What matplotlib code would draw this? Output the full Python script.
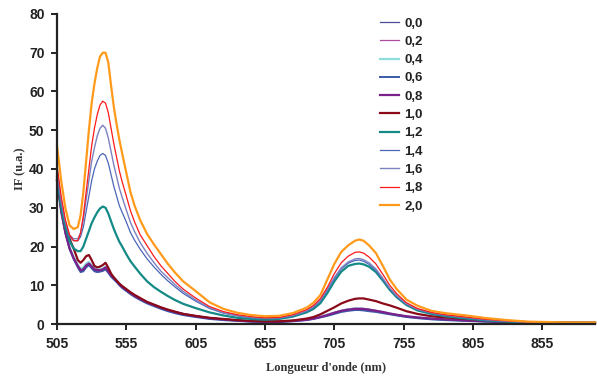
import matplotlib
matplotlib.use("Agg")
import matplotlib.pyplot as plt

# wavelength grid (nm)
wl = [505, 508, 511, 514, 517, 520, 522, 524, 526, 528, 530, 532, 534, 536, 538, 540,
      542, 544, 546, 548, 550, 552, 555, 558, 561, 565, 570, 575, 580, 585, 590, 596,
      605, 615, 625, 635, 645, 655, 665, 675, 685, 690, 695, 700, 705, 710, 715, 720,
      723, 726, 730, 735, 740, 745, 750, 757, 765, 775, 785, 800, 815, 830, 845, 860,
      875, 893]

c00 = [36.5, 28.5, 23.2, 19.3, 16.8, 14.8, 13.6, 13.8, 14.8, 15.4, 14.6, 13.9, 13.6, 13.7, 13.9, 14.3,
       13.4, 12.4, 11.7, 10.9, 10.1, 9.4, 8.6, 7.8, 7.1, 6.3, 5.4, 4.7, 4.0, 3.4, 2.9, 2.4,
       1.9, 1.4, 1.1, 0.9, 0.7, 0.6, 0.6, 0.8, 1.1, 1.4, 1.8, 2.3, 2.8, 3.3, 3.6, 3.8,
       3.8, 3.7, 3.5, 3.2, 2.9, 2.6, 2.3, 1.9, 1.6, 1.3, 1.1, 0.9, 0.7, 0.5, 0.4, 0.35,
       0.3, 0.3]
c02 = [37.0, 29.0, 23.6, 19.6, 17.1, 15.1, 14.0, 14.3, 15.3, 15.8, 15.0, 14.2, 14.0, 14.0, 14.2, 14.7,
       13.7, 12.7, 12.0, 11.2, 10.4, 9.7, 8.9, 8.1, 7.4, 6.5, 5.6, 4.9, 4.2, 3.6, 3.1, 2.6,
       2.1, 1.6, 1.2, 1.0, 0.8, 0.7, 0.7, 0.9, 1.2, 1.5, 1.9, 2.5, 3.0, 3.5, 3.9, 4.1,
       4.1, 4.0, 3.8, 3.5, 3.1, 2.7, 2.4, 2.0, 1.7, 1.4, 1.2, 0.9, 0.7, 0.5, 0.4, 0.35,
       0.3, 0.3]
c04 = [37.5, 29.5, 24.0, 19.8, 17.3, 15.3, 14.2, 14.6, 15.6, 16.0, 15.2, 14.4, 14.1, 14.1, 14.3, 14.8,
       13.8, 12.8, 12.0, 11.2, 10.4, 9.7, 8.9, 8.1, 7.3, 6.5, 5.6, 4.8, 4.1, 3.5, 3.0, 2.5,
       2.0, 1.5, 1.2, 0.9, 0.7, 0.6, 0.7, 0.9, 1.2, 1.5, 1.9, 2.4, 2.9, 3.4, 3.8, 4.0,
       4.0, 3.9, 3.7, 3.4, 3.0, 2.7, 2.3, 1.9, 1.6, 1.3, 1.1, 0.9, 0.7, 0.5, 0.4, 0.35,
       0.3, 0.3]
c06 = [38.5, 30.0, 24.0, 19.5, 16.8, 14.6, 13.4, 13.6, 14.6, 15.2, 14.4, 13.6, 13.4, 13.5, 13.7, 14.1,
       13.2, 12.2, 11.5, 10.8, 10.0, 9.3, 8.5, 7.7, 7.0, 6.2, 5.3, 4.6, 3.9, 3.3, 2.8, 2.3,
       1.8, 1.3, 1.0, 0.8, 0.6, 0.5, 0.5, 0.7, 1.0, 1.3, 1.7, 2.1, 2.6, 3.1, 3.4, 3.6,
       3.6, 3.5, 3.3, 3.1, 2.8, 2.5, 2.2, 1.8, 1.5, 1.2, 1.0, 0.8, 0.6, 0.5, 0.4, 0.35,
       0.3, 0.3]
c08 = [37.0, 29.2, 23.6, 19.6, 17.0, 15.0, 13.9, 14.1, 15.1, 15.6, 14.9, 14.1, 13.9, 13.9, 14.1, 14.6,
       13.6, 12.6, 11.9, 11.1, 10.3, 9.6, 8.8, 8.0, 7.3, 6.5, 5.6, 4.9, 4.2, 3.6, 3.1, 2.6,
       2.0, 1.5, 1.2, 0.9, 0.7, 0.6, 0.6, 0.8, 1.1, 1.4, 1.8, 2.3, 2.9, 3.4, 3.7, 3.9,
       3.9, 3.9, 3.7, 3.4, 3.1, 2.7, 2.4, 2.0, 1.7, 1.4, 1.2, 0.9, 0.7, 0.5, 0.4, 0.35,
       0.3, 0.3]
c10 = [37.0, 30.0, 25.0, 22.0, 19.5, 16.5, 15.8, 16.5, 17.5, 17.8, 16.5, 15.0, 14.6, 14.8, 15.2, 15.8,
       14.5, 13.0, 12.0, 11.2, 10.4, 9.8, 9.0, 8.2, 7.5, 6.7, 5.7, 5.0, 4.3, 3.7, 3.2, 2.6,
       2.1, 1.6, 1.3, 1.0, 0.8, 0.7, 0.7, 0.9, 1.4, 1.8, 2.5, 3.4, 4.3, 5.3, 6.0, 6.5,
       6.6, 6.6, 6.3, 5.9, 5.3, 4.8, 4.2, 3.3, 2.6, 2.0, 1.7, 1.3, 1.0, 0.7, 0.5, 0.4,
       0.35, 0.3]
c12 = [38.0, 30.0, 25.0, 21.5, 19.5, 18.8, 18.8, 20.0, 22.0, 24.0, 26.0, 27.5, 28.8, 29.8, 30.3, 30.0,
       28.5, 26.5, 24.5, 22.8, 21.2, 20.0, 18.0, 16.2, 14.8, 13.0, 11.0, 9.5, 8.3, 7.2, 6.2, 5.2,
       4.1, 3.0, 2.2, 1.6, 1.3, 1.1, 1.3, 1.9, 3.0, 3.9, 5.4, 8.0, 11.0, 13.5, 15.0, 15.5,
       15.6, 15.4, 14.8, 13.4, 11.2, 8.8, 6.9, 4.9, 3.5, 2.6, 2.0, 1.4, 0.9, 0.6, 0.4, 0.35,
       0.3, 0.3]
c14 = [39.0, 31.0, 26.0, 22.5, 21.5, 21.5, 22.5, 25.0, 29.0, 33.0, 37.0, 40.0, 42.0, 43.5, 44.0, 43.5,
       41.5, 38.5, 35.5, 33.0, 30.5, 28.8, 26.3, 23.6, 21.6, 19.3, 16.8, 14.7, 12.8, 11.1, 9.6, 7.9,
       5.9, 4.0, 2.8, 2.1, 1.6, 1.4, 1.5, 2.1, 3.3, 4.3, 6.0, 8.7, 11.7, 14.2, 15.7, 16.4,
       16.5, 16.2, 15.4, 13.9, 11.5, 9.1, 7.1, 5.1, 3.7, 2.8, 2.2, 1.6, 1.0, 0.7, 0.5, 0.4,
       0.35, 0.3]
c16 = [40.0, 32.0, 26.5, 23.0, 22.0, 22.0, 23.5, 27.0, 32.0, 37.0, 42.0, 45.5, 48.5, 50.5, 51.3, 50.5,
       48.0, 44.5, 41.0, 38.0, 35.0, 32.7, 29.4, 26.2, 23.8, 21.0, 18.2, 15.8, 13.6, 11.9, 10.2, 8.4,
       6.2, 4.2, 2.9, 2.2, 1.7, 1.5, 1.6, 2.2, 3.4, 4.5, 6.2, 9.0, 12.0, 14.5, 16.0, 16.8,
       16.9, 16.6, 15.8, 14.2, 11.8, 9.3, 7.3, 5.2, 3.8, 2.9, 2.3, 1.7, 1.1, 0.7, 0.5, 0.4,
       0.35, 0.3]
c18 = [41.0, 33.0, 27.0, 23.0, 21.5, 21.5, 23.5, 28.0, 34.0, 40.0, 46.0, 50.5, 54.0, 56.5, 57.5, 57.0,
       54.5, 50.5, 46.5, 43.0, 39.5, 36.7, 33.0, 29.2, 26.3, 23.0, 20.2, 17.4, 15.0, 13.0, 11.0, 9.0,
       6.7, 4.5, 3.2, 2.4, 1.9, 1.6, 1.7, 2.4, 3.7, 4.8, 6.6, 9.5, 13.0, 15.8, 17.5, 18.5,
       18.6, 18.3, 17.3, 15.5, 12.8, 10.0, 7.8, 5.5, 4.0, 3.0, 2.4, 1.8, 1.2, 0.8, 0.5, 0.4,
       0.35, 0.3]
c20 = [46.0, 37.0, 30.0, 25.5, 24.5, 25.0, 28.0, 34.0, 42.0, 50.0, 57.0, 62.0, 66.0, 69.0, 70.0, 70.0,
       67.5, 61.5, 56.0, 51.5, 47.5, 44.0, 39.0, 34.0, 30.5, 26.8, 23.2, 20.5, 18.0, 15.5, 13.3, 11.0,
       8.5, 5.6, 3.9, 2.9, 2.3, 2.0, 2.1, 2.8, 4.2, 5.5, 7.5, 11.5, 15.5, 18.6, 20.3, 21.5,
       21.8, 21.5, 20.3, 18.3, 15.0, 11.5, 9.0, 6.3, 4.7, 3.4, 2.8, 2.2, 1.5, 1.0, 0.6, 0.5,
       0.4, 0.4]

labels = ["0,0", "0,2", "0,4", "0,6", "0,8", "1,0", "1,2", "1,4", "1,6", "1,8", "2,0"]
series = [c00, c02, c04, c06, c08, c10, c12, c14, c16, c18, c20]
colors = ["#4b4b9b", "#b04ca0", "#8fdcdc", "#3a5aa8", "#7b1f8a", "#8b0a1a",
          "#138a86", "#4a66b8", "#7c82c0", "#ff1a1a", "#ff9a1a"]
widths = [0.9, 0.9, 1.6, 1.4, 1.6, 1.6, 1.6, 0.9, 1.0, 0.9, 1.6]

xticks = [505, 555, 605, 655, 705, 755, 805, 855]
yticks = [0, 10, 20, 30, 40, 50, 60, 70, 80]

fig = plt.figure(figsize=(5.97, 3.76), dpi=100)
ax = fig.add_axes([57/597, 1 - 324/376, (595-57)/597, (324-14)/376])

for y, lab, col, lw in zip(series, labels, colors, widths):
    ax.plot(wl, y, color=col, lw=lw, label=lab, clip_on=False)

ax.set_xlim(505, 893)
ax.set_ylim(0, 80)
ax.set_xticks(xticks)
ax.set_yticks(yticks)
for s in ["top", "right"]:
    ax.spines[s].set_visible(False)
for s in ["left", "bottom"]:
    ax.spines[s].set_linewidth(1.6)
    ax.spines[s].set_color("#222222")
ax.tick_params(direction="out", length=4, width=1.4, colors="#222222", pad=5)
for t in ax.get_xticklabels() + ax.get_yticklabels():
    t.set_fontfamily("Liberation Sans")
    t.set_fontweight("bold")
    t.set_fontsize(10)
    t.set_color("#222222")

ax.set_xlabel("Longueur d'onde (nm)", family="Liberation Serif", weight="bold",
              fontsize=9, color="#333333", labelpad=8)
ax.set_ylabel("IF (u.a.)", family="Liberation Serif", weight="bold",
              fontsize=9, color="#333333", labelpad=2)

leg = ax.legend(loc="upper left", bbox_to_anchor=((375-57)/538, 1.0 + 2/310),
                frameon=False, handlelength=1.45, handletextpad=0.35,
                labelspacing=0.46, borderaxespad=0,
                prop={"family": "Liberation Sans", "weight": "bold", "size": 9.5})
for t in leg.get_texts():
    t.set_color("#222222")

fig.savefig("out.png", dpi=100)
